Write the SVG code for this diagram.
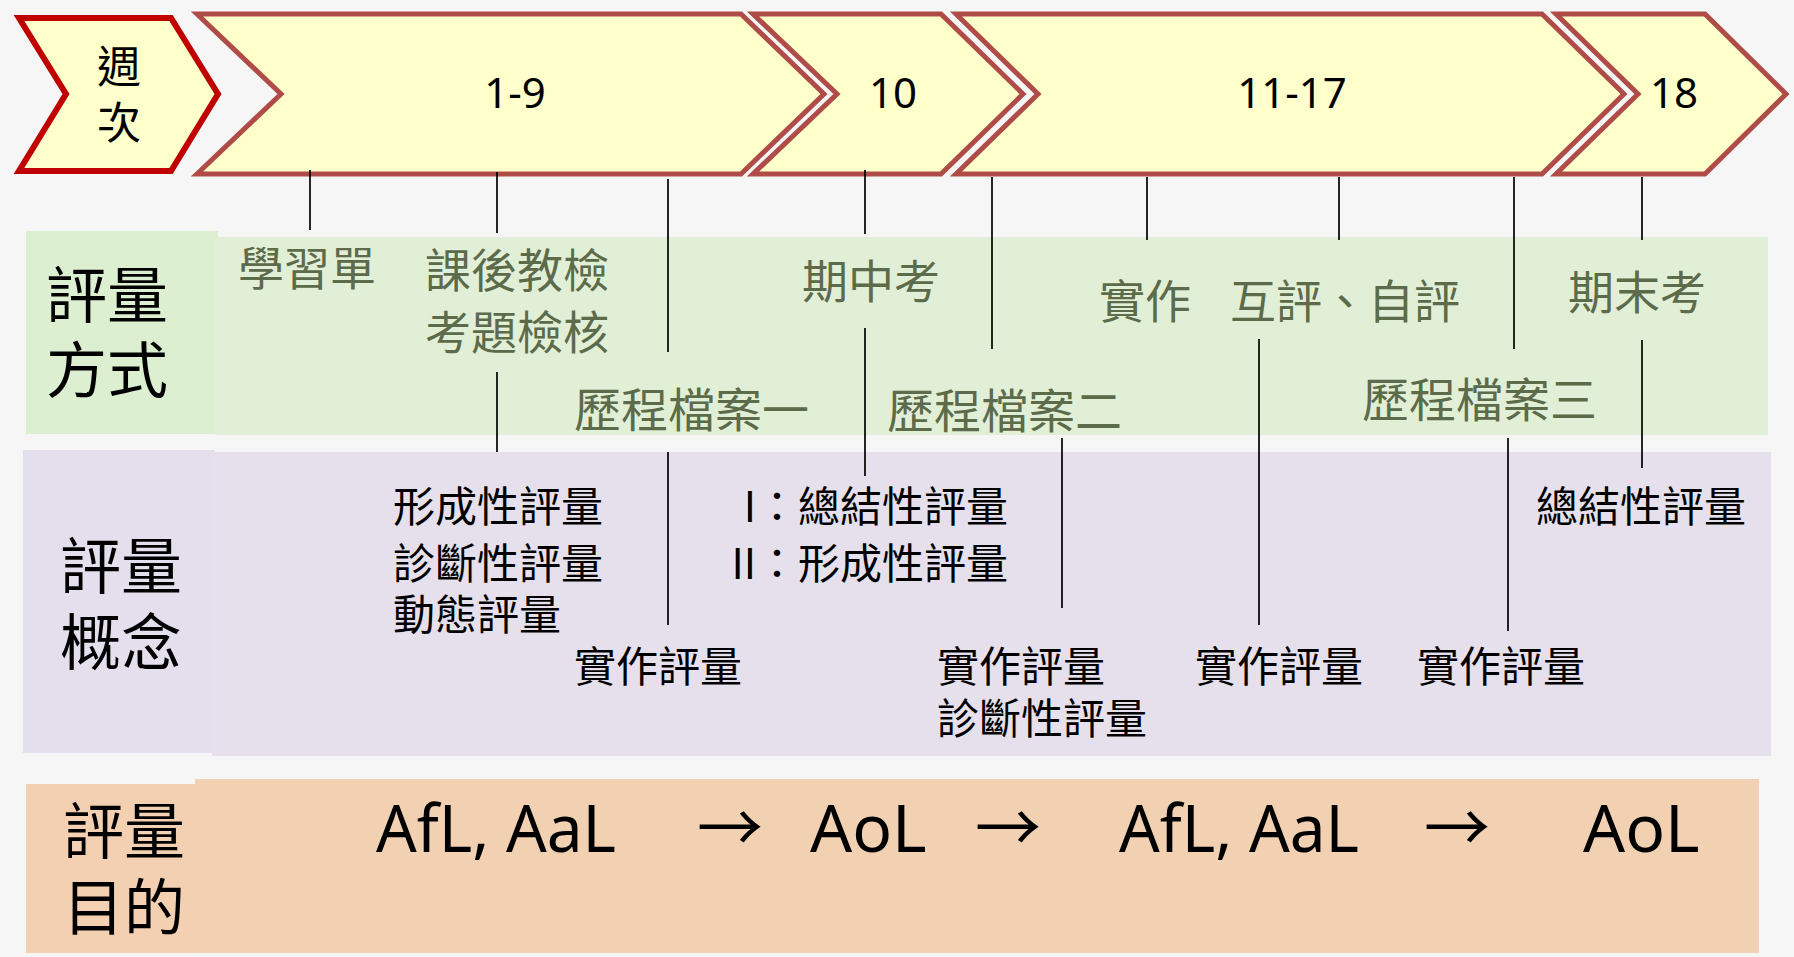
<svg xmlns="http://www.w3.org/2000/svg" width="1794" height="957" viewBox="0 0 1794 957">
<style>
.cj{font-family:"Noto Sans CJK TC","Noto Sans CJK SC",sans-serif}
.lat{font-family:"Noto Sans","Open Sans",sans-serif}
.wk{fill:#FFFFCC;stroke:#B04C48;stroke-width:5;stroke-linejoin:miter}
.hd{font-size:61px;fill:#000}
.m{font-size:46px;fill:#5C6B4A}
.c{font-size:42px;fill:#000}
.num{font-size:42px;fill:#000;text-anchor:middle}
.p{font-size:66px;fill:#000}
.ln{stroke:#000;stroke-width:1.7}
</style>
<rect width="1794" height="957" fill="#F6F6F6"/>

<g id="bands">
<rect x="26" y="231" width="192" height="203" fill="#DCEFD0"/>
<rect x="215" y="237" width="1553" height="198" fill="#E2EFD7"/>
<rect x="23" y="450" width="192" height="303" fill="#E4DFEC"/>
<rect x="212" y="452" width="1559" height="304" fill="#E5E0EC"/>
<rect x="26" y="784" width="172" height="169" fill="#F2D0B1"/>
<rect x="195" y="779" width="1564" height="174" fill="#F2D1B3"/>
</g>

<g id="week-label">
<path d="M19,18 L171,18 L218,94 L171,171 L19,171 L66,94 Z" fill="#FFFFCC" stroke="#C00000" stroke-width="6"/>
<text class="cj" x="119" y="83" font-size="44" text-anchor="middle">週</text>
<text class="cj" x="119" y="139" font-size="44" text-anchor="middle">次</text>
</g>
<g id="week-1-9">
<path class="wk" d="M197,14 L741,14 L824,94 L741,174 L197,174 L281,94 Z"/>
<text class="lat num" x="515" y="108">1-9</text>
</g>
<g id="week-10">
<path class="wk" d="M753,14 L941,14 L1023,94 L941,174 L753,174 L837,94 Z"/>
<text class="lat num" x="893" y="108">10</text>
</g>
<g id="week-11-17">
<path class="wk" d="M956,14 L1542,14 L1624,94 L1542,174 L956,174 L1038,94 Z"/>
<text class="lat num" x="1292" y="108">11-17</text>
</g>
<g id="week-18">
<path class="wk" d="M1556,14 L1705,14 L1786,94 L1705,174 L1556,174 L1638,94 Z"/>
<text class="lat num" x="1674" y="108">18</text>
</g>

<g id="headers" class="cj hd">
<text x="46" y="318">評量</text>
<text x="46" y="393">方式</text>
<text x="60" y="589">評量</text>
<text x="60" y="665">概念</text>
<text x="63" y="854">評量</text>
<text x="63" y="930">目的</text>
</g>

<g id="methods" class="cj m">
<text x="238" y="285">學習單</text>
<text x="425" y="287">課後教檢</text>
<text x="425" y="349">考題檢核</text>
<text x="802" y="298">期中考</text>
<text x="1099" y="318">實作</text>
<text x="1230" y="318">互評、自評</text>
<text x="1568" y="309">期末考</text>
<text x="574" y="427" font-size="47">歷程檔案一</text>
<text x="887" y="428" font-size="47">歷程檔案二</text>
<text x="1362" y="417" font-size="47">歷程檔案三</text>
</g>

<g id="concepts" class="cj c">
<text x="393" y="522">形成性評量</text>
<text x="393" y="579">診斷性評量</text>
<text x="393" y="630">動態評量</text>
<text x="574" y="682">實作評量</text>
<text x="1008" y="522" text-anchor="end">I：總結性評量</text>
<text x="1008" y="579" text-anchor="end">II：形成性評量</text>
<text x="937" y="682">實作評量</text>
<text x="937" y="734">診斷性評量</text>
<text x="1195" y="682">實作評量</text>
<text x="1417" y="682">實作評量</text>
<text x="1536" y="522">總結性評量</text>
</g>

<g id="purposes">
<text class="lat p" x="376" y="852" textLength="240" lengthAdjust="spacingAndGlyphs">AfL, AaL</text>
<text class="cj p" x="730" y="852" text-anchor="middle">→</text>
<text class="lat p" x="810" y="852">AoL</text>
<text class="cj p" x="1008" y="852" text-anchor="middle">→</text>
<text class="lat p" x="1119" y="852" textLength="240" lengthAdjust="spacingAndGlyphs">AfL, AaL</text>
<text class="cj p" x="1457" y="852" text-anchor="middle">→</text>
<text class="lat p" x="1583" y="852">AoL</text>
</g>

<g id="connectors" class="ln">
<line x1="310" y1="170" x2="310" y2="230"/>
<line x1="497" y1="172" x2="497" y2="233"/>
<line x1="497" y1="372" x2="497" y2="452"/>
<line x1="668" y1="179" x2="668" y2="352"/>
<line x1="668" y1="452" x2="668" y2="625"/>
<line x1="865" y1="170" x2="865" y2="234"/>
<line x1="865" y1="328" x2="865" y2="476"/>
<line x1="992" y1="177" x2="992" y2="349"/>
<line x1="1147" y1="177" x2="1147" y2="240"/>
<line x1="1062" y1="438" x2="1062" y2="608"/>
<line x1="1259" y1="339" x2="1259" y2="625"/>
<line x1="1339" y1="177" x2="1339" y2="240"/>
<line x1="1514" y1="177" x2="1514" y2="349"/>
<line x1="1508" y1="438" x2="1508" y2="631"/>
<line x1="1642" y1="177" x2="1642" y2="240"/>
<line x1="1642" y1="340" x2="1642" y2="468"/>
</g>
</svg>
